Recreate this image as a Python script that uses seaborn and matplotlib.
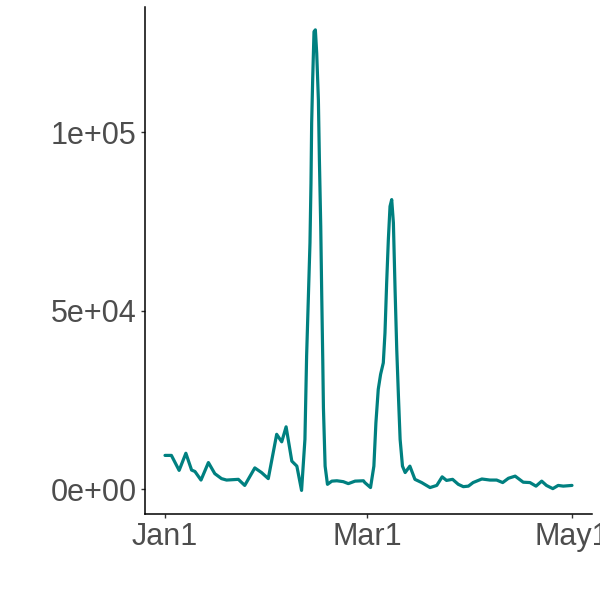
import numpy as np
import pandas as pd
import matplotlib
matplotlib.use("Agg")
import matplotlib.pyplot as plt
import seaborn as sns

# Days since 2020-01-01 and values
day_offsets = [0.0, 1.9, 4.2, 6.2, 7.9, 8.9, 10.7, 12.9, 14.8, 16.8, 18.3, 21.8,
               23.7, 26.7, 28.7, 30.7, 33.2, 34.7, 36.0, 37.7, 39.2, 40.6, 41.6,
               42.1, 42.6, 43.1, 43.4, 43.6, 43.9, 44.3, 44.7, 45.1, 45.6, 45.9,
               46.3, 46.6, 46.9, 47.1, 47.6, 48.3, 49.6, 51.1, 53.0, 54.5, 56.5,
               59.0, 59.4, 61.1, 62.1, 62.7, 63.4, 64.1, 64.9, 65.4, 65.9, 66.4,
               66.9, 67.4, 67.9, 68.4, 68.9, 69.4, 69.9, 70.6, 71.4, 72.8, 74.3,
               76.3, 78.8, 80.8, 82.4, 83.7, 85.5, 87.2, 88.7, 90.2, 91.6, 94.2,
               96.6, 98.6, 100.4, 102.1, 104.1, 106.5, 108.5, 110.3, 112.0, 113.4,
               115.3, 116.9, 118.4, 121.0]
values = [9500, 9500, 5300, 10100, 5400, 5000, 2600, 7500, 4400, 3000, 2600, 2800,
          1100, 6000, 4700, 3000, 15400, 13300, 17500, 7900, 6500, -300, 14000,
          37300, 53100, 69000, 85700, 102500, 114600, 128100, 128600, 122100, 109000, 92300,
          73600, 54000, 36300, 22800, 6500, 1400, 2300, 2400, 2150, 1600, 2300,
          2400, 1900, 500, 6500, 18600, 28000, 32200, 35400, 43800, 57800, 69900,
          79200, 81100, 74600, 55900, 39100, 26100, 14000, 6500, 4700, 6500, 2800,
          1900, 500, 1100, 3500, 2500, 2800, 1400, 750, 900, 1900, 2900,
          2600, 2600, 1900, 3100, 3700, 2000, 1900, 900, 2300, 1100,
          200, 1100, 900, 1100]

y_ticks = [0, 50000, 100000]
y_tick_labels = ["0e+00", "5e+04", "1e+05"]
x_tick_dates = ["2020-01-01", "2020-03-01", "2020-05-01"]
x_tick_labels = ["Jan1", "Mar1", "May1"]

start = pd.Timestamp("2020-01-01")
df = pd.DataFrame({
    "date": start + pd.to_timedelta(day_offsets, unit="D"),
    "value": values,
})

sns.set_theme(style="ticks")
plt.rcParams["font.family"] = ["Liberation Sans", "DejaVu Sans"]

fig = plt.figure(figsize=(6, 6), dpi=100)
ax = fig.add_axes([145 / 600, 86 / 600, 447 / 600, 507 / 600])

sns.lineplot(data=df, x="date", y="value", color="#008080", linewidth=2.3,
             estimator=None, ax=ax, solid_joinstyle="round",
             solid_capstyle="round")

ax.set_xlim(start - pd.Timedelta(days=5.95), start + pd.Timedelta(days=126.95))
ax.set_ylim(-6900, 135000)

ax.set_yticks(y_ticks)
ax.set_yticklabels(y_tick_labels)
ax.set_xticks(pd.to_datetime(x_tick_dates))
ax.set_xticklabels(x_tick_labels)

ax.set_xlabel("")
ax.set_ylabel("")
for s in ["top", "right"]:
    ax.spines[s].set_visible(False)
for s in ["left", "bottom"]:
    ax.spines[s].set_color("black")
    ax.spines[s].set_linewidth(1.1)

ax.tick_params(axis="both", colors="#333333", length=3, width=1,
               labelsize=22, labelcolor="#4D4D4D", pad=3)
ax.grid(False)

fig.savefig("out.png", dpi=100)
